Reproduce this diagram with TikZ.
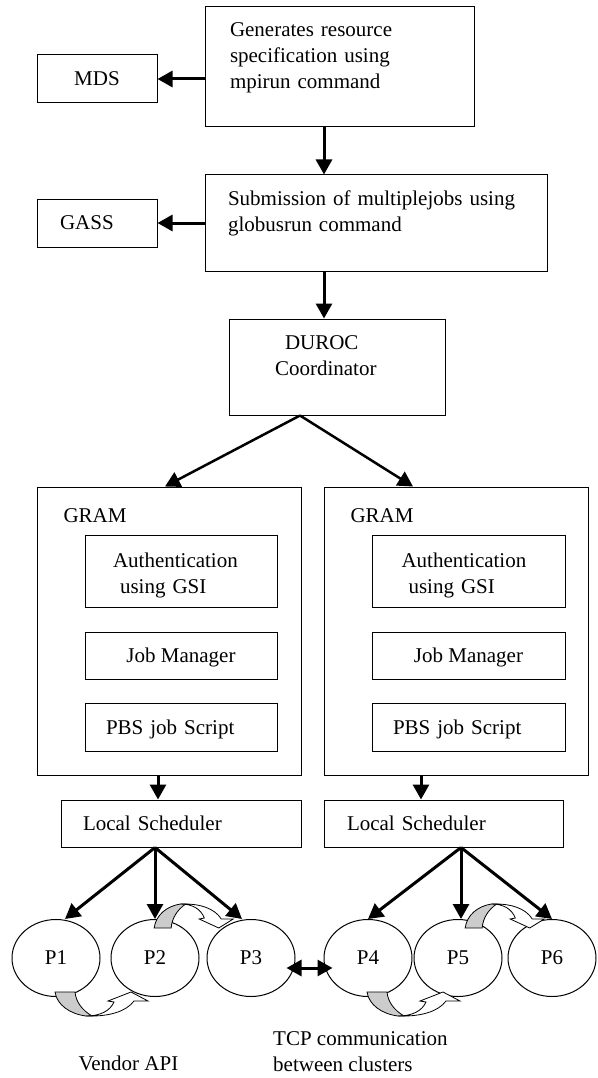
\documentclass[tikz,border=0pt]{standalone}
\usepackage{fontspec}
\setmainfont{Liberation Serif}
\usetikzlibrary{arrows.meta,shapes.geometric}
\begin{document}
\begin{tikzpicture}[x=1pt,y=-1pt,font=\fontsize{21}{26}\selectfont,
  box/.style={draw,line width=1pt,inner sep=0pt,align=left},
  proc/.style={draw,ellipse,line width=1pt,inner sep=0pt,minimum width=88pt,minimum height=77pt},
  arr/.style={line width=3pt,-{Triangle[length=15pt,width=16pt]}},
  turnarrow/.pic={
    \filldraw[fill=gray!40,line width=0.8pt] (-1,34) .. controls (1,47) and (14,56) .. (30,58)
      -- (36,58) .. controls (26,52) and (20,44) .. (19,34) -- cycle;
    \filldraw[fill=white,line width=0.8pt] (30,58) .. controls (44,58) and (54,53) .. (58,44)
      -- (52,43) -- (75,34) -- (92,43) -- (78,43) .. controls (70,54) and (52,58) .. (36,58) -- cycle;
  }]
\useasboundingbox (0,0) rectangle (597,1078);
% top part
\node[box,minimum width=269pt,minimum height=120pt,text width=219pt,text depth=75pt] (gen) at (339.5,67)
  {Generates resource\\specification using\\mpirun command};
\node[box,align=center,minimum width=120pt,minimum height=48pt] (mds) at (97,79) {MDS};
\node[box,minimum width=342pt,minimum height=96pt,text width=296pt,text depth=50pt] (sub) at (376,223)
  {Submission of multiplejobs using\\globusrun command};
\node[box,minimum width=120pt,minimum height=48pt,text width=74pt] (gass) at (97,223) {GASS};
\node[box,minimum width=216pt,minimum height=96pt,text width=124pt,text depth=48pt] (duroc) at (337,367)
  {\hspace*{10pt}DUROC\\Coordinator};
\coordinate (spine) at (324,0);
\draw[arr] (gen.west |- mds.east) -- (mds.east);
\draw[arr] (sub.west) -- (gass.east);
\draw[arr] (spine |- gen.south) -- (spine |- sub.north);
\draw[arr] (spine |- sub.south) -- (spine |- duroc.north);
% GRAM, left
\node[box,minimum width=264pt,minimum height=288pt] (gramL) at (169,631) {};
\node[anchor=base west] (gramLname) at (60,522) {GRAM};
\node[box,minimum width=192pt,minimum height=72pt,text width=136pt,text depth=22pt] (authL) at (181,571)
  {Authentication\\\hspace*{7pt}using GSI};
\node[box,align=center,minimum width=192pt,minimum height=47pt,text depth=0pt] (jobL) at (181,655.5) {Job Manager};
\node[box,minimum width=192pt,minimum height=48pt,text width=150pt,text depth=0pt] (pbsL) at (181,727) {PBS job Script};
\node[box,minimum width=240pt,minimum height=47pt,text width=196pt] (lsL) at (181,823.5) {Local Scheduler};
% GRAM, right
\node[box,minimum width=264pt,minimum height=288pt] (gramR) at (456,631) {};
\node[anchor=base west] (gramRname) at (347,522) {GRAM};
\node[box,minimum width=193pt,minimum height=72pt,text width=134pt,text depth=22pt] (authR) at (468.5,571)
  {Authentication\\\hspace*{7pt}using GSI};
\node[box,align=center,minimum width=193pt,minimum height=47pt,text depth=0pt] (jobR) at (468.5,655.5) {Job Manager};
\node[box,minimum width=193pt,minimum height=48pt,text width=151pt,text depth=0pt] (pbsR) at (468.5,727) {PBS job Script};
\node[box,minimum width=239pt,minimum height=47pt,text width=193pt] (lsR) at (443.5,823.5) {Local Scheduler};
\draw[arr,line width=2.5pt] ([xshift=-37pt]duroc.south) -- ([xshift=-4pt]gramL.north);
\draw[arr,line width=2.5pt] ([xshift=-37pt]duroc.south) -- ([xshift=-43pt]gramR.north);
\draw[arr] ([xshift=-11pt]gramL.south) -- ([xshift=-11pt]gramL.south |- lsL.north);
\draw[arr] ([xshift=-35pt]gramR.south) -- ([xshift=-35pt]gramR.south |- lsR.north);
% processes
\node[proc] (p1) at (56,958) {P1};
\node[proc] (p2) at (155,958) {P2};
\node[proc] (p3) at (251,958) {P3};
\node[proc] (p4) at (368,958) {P4};
\node[proc] (p5) at (458,958) {P5};
\node[proc] (p6) at (552,958) {P6};
\pic at (p1.center) {turnarrow};
\pic at (p4.center) {turnarrow};
\pic[xscale=0.85,yscale=-1] at ([yshift=-4pt]p2.center) {turnarrow};
\pic[xscale=0.85,yscale=-1] at ([shift={(8pt,-4pt)}]p5.center) {turnarrow};
\draw[arr] ([xshift=-26pt]lsL.south) -- ([xshift=9pt]p1.north);
\draw[arr] ([xshift=-26pt]lsL.south) -- (p2.north);
\draw[arr] ([xshift=-26pt]lsL.south) -- ([xshift=-9pt]p3.north);
\draw[arr] ([xshift=17.5pt]lsR.south) -- (p4.north);
\draw[arr] ([xshift=17.5pt]lsR.south) -- ([xshift=3pt]p5.north);
\draw[arr] ([xshift=17.5pt]lsR.south) -- (p6.north);
\draw[line width=3pt,{Triangle[length=15pt,width=16pt]}-{Triangle[length=15pt,width=16pt]},
  shorten <=-9pt,shorten >=-9pt] ([yshift=-10pt]p3.east) -- ([yshift=-10pt]p4.west);
% captions
\node[anchor=north west,inner sep=0pt,align=left] (tcp) at (273,1031.5) {TCP communication\\between clusters};
\node[anchor=base west] (vendor) at (75,1070) {Vendor API};
\end{tikzpicture}
\end{document}
